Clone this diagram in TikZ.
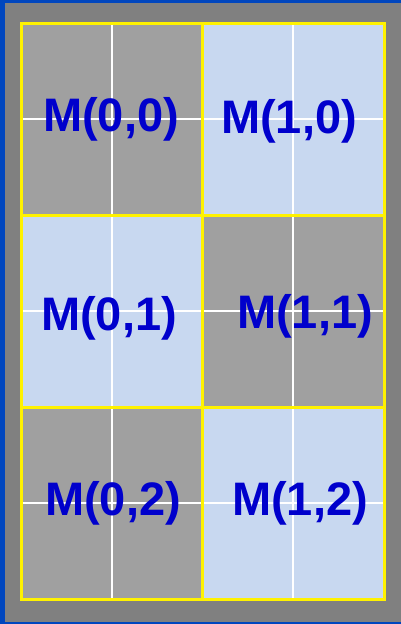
\documentclass[tikz,border=0pt]{standalone}
\usepackage{fontspec}
\setmainfont{Liberation Sans}
\definecolor{frameblue}{RGB}{0,70,190}
\definecolor{bggray}{RGB}{128,128,128}
\definecolor{cellgray}{RGB}{160,160,160}
\definecolor{cellblue}{RGB}{200,216,240}
\definecolor{labelblue}{RGB}{0,0,204}
\begin{document}
\begin{tikzpicture}[x=1pt,y=-1pt]
            \tikzset{lbl/.style={text=labelblue, font=\fontsize{47}{50}\selectfont\bfseries, inner sep=0pt, anchor=base}}
            \useasboundingbox (0,0) rectangle (401,624);

            % achtergrond met blauwe rand
            \fill[frameblue] (0,0) rectangle (401,624);
            \fill[bggray] (5,3) rectangle (401,622);

            % cellen
            \foreach \i/\j/\c in {0/0/cellgray,1/0/cellblue,0/1/cellblue,1/1/cellgray,0/2/cellgray,1/2/cellblue}{
                \fill[\c] ({21+181.5*\i},{23.5+191.8*\j}) rectangle ++(181.5,191.8);
                \draw[white, line width=2pt] ({21+181.5*\i+90.75},{23.5+191.8*\j}) -- ++(0,191.8);
                \draw[white, line width=2pt] ({21+181.5*\i},{23.5+191.8*\j+95.9}) -- ++(181.5,0);
            }

            % gele roosterlijnen
            \draw[yellow, line width=3pt] (21,23.5) rectangle (384,599);
            \draw[yellow, line width=3pt] (202.5,23.5) -- (202.5,599);
            \draw[yellow, line width=3pt] (21,215.3) -- (384,215.3);
            \draw[yellow, line width=3pt] (21,407.2) -- (384,407.2);

            % labels
            \node[lbl] (m00) at (111,131) {M(0,0)};
            \node[lbl] (m10) at (289,133) {M(1,0)};
            \node[lbl] (m01) at (109,330) {M(0,1)};
            \node[lbl] (m11) at (305,328) {M(1,1)};
            \node[lbl] (m02) at (113,515) {M(0,2)};
            \node[lbl] (m12) at (300,515) {M(1,2)};
        \end{tikzpicture}
\end{document}
